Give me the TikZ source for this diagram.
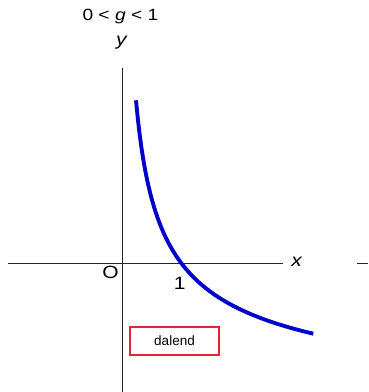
\documentclass[tikz,border=0pt]{standalone}
\usepackage{fontspec}
\setmainfont{Liberation Sans}
\definecolor{curveblue}{RGB}{0,0,205}
\definecolor{boxred}{RGB}{220,40,50}
\tikzset{
    axislabel/.style={xscale=1.18, font=\fontsize{9.2}{11}\selectfont},
    titlelabel/.style={xscale=1.18, font=\fontsize{8.4}{10}\selectfont}
}
\begin{document}
\begin{tikzpicture}
            \useasboundingbox (-2.218,-2.336) rectangle (4.473,4.79);
            \draw[black!85] (-2.07,0) -- (2.93,0);
            \draw[black!85] (4.27,0) -- (4.473,0);
            \draw[black!85] (0,-2.336) -- (0,3.555);
            \node[axislabel] (xlab) at (3.18,0.03) {\textit{x}};
            \node[axislabel] (ylab) at (0,4.01) {\textit{y}};
            \node[titlelabel] (title) at (-0.03,4.49) {0 < \textit{g} < 1};
            \node[axislabel] (O) at (-0.21,-0.155) {O};
            \node[axislabel] (one) at (1.05,-0.36) {1};
            \draw[curveblue, line width=2pt, domain=0.2545:3.478, samples=100]
                plot (\x, {3.115*exp(-0.475*ln(\x)) - 3});
            \node[draw=boxred, thick, minimum width=1.62cm, minimum height=0.51cm, font=\fontsize{7}{8}\selectfont] (legend) at (0.955,-1.41) {dalend};
        \end{tikzpicture}
\end{document}
